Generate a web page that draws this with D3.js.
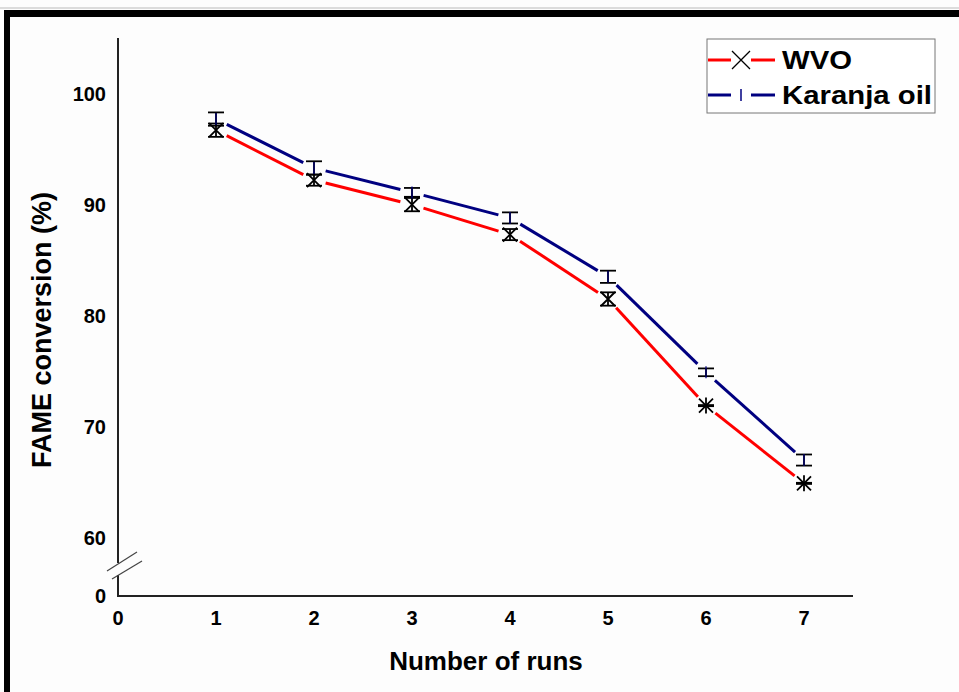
<!DOCTYPE html>
<html>
<head>
<meta charset="utf-8">
<script src="https://cdn.jsdelivr.net/npm/d3@7/dist/d3.min.js"></script>
<style>
  html, body { margin: 0; padding: 0; background: #fff; }
  svg { display: block; }
  text { font-family: "Liberation Sans", Arial, sans-serif; font-weight: bold; fill: #000; }
</style>
</head>
<body>
<svg id="chart" width="959" height="692"></svg>
<script>
// ---- data ----
const runs = [1, 2, 3, 4, 5, 6, 7];
const wvo = [96.7, 92.2, 90.0, 87.3, 81.5, 71.9, 64.9];
const wvoErr = [0.6, 0.5, 0.6, 0.5, 0.6, 0.05, 0.05];
const karanja = [97.7, 93.3, 91.1, 88.8, 83.5, 74.9, 67.0];
const karanjaErr = [0.6, 0.6, 0.4, 0.5, 0.55, 0.35, 0.5];
const xTickValues = [0, 1, 2, 3, 4, 5, 6, 7];
const yTickValues = [0, 60, 70, 80, 90, 100];
const seriesNames = ["WVO", "Karanja oil"];
const seriesColors = ["#ff0000", "#000080"];

const svg = d3.select("#chart");

// frame
svg.append("rect").attr("x", 0).attr("y", 0).attr("width", 959).attr("height", 692).attr("fill", "#fdfdfd");
svg.append("line").attr("x1", 0).attr("x2", 959).attr("y1", 8).attr("y2", 8).attr("stroke", "#bbb").attr("stroke-width", 1);
svg.append("rect").attr("x", 4).attr("y", 10).attr("width", 955).attr("height", 7).attr("fill", "#000");
svg.append("rect").attr("x", 4).attr("y", 10).attr("width", 6).attr("height", 682).attr("fill", "#000");

// scales
const x = d3.scaleLinear().domain([0, 7.5]).range([118, 853]);
const y = d3.scaleLinear().domain([0, 58, 105]).range([596, 560, 38]);

const axisColor = "#222";
svg.append("line").attr("x1", x(0)).attr("x2", x(7.5)).attr("y1", y(0)).attr("y2", y(0))
  .attr("stroke", axisColor).attr("stroke-width", 2);
const breakTop = 563, breakBottom = 575;
svg.append("line").attr("x1", x(0)).attr("x2", x(0)).attr("y1", y(105)).attr("y2", breakTop)
  .attr("stroke", axisColor).attr("stroke-width", 2);
svg.append("line").attr("x1", x(0)).attr("x2", x(0)).attr("y1", breakBottom).attr("y2", y(0) + 1)
  .attr("stroke", axisColor).attr("stroke-width", 2);
[[107, 571, 137, 552], [112, 579, 142, 561]].forEach(d => {
  svg.append("line").attr("x1", d[0]).attr("y1", d[1]).attr("x2", d[2]).attr("y2", d[3])
    .attr("stroke", "#444").attr("stroke-width", 1.2);
});

// tick labels
svg.append("g").selectAll("text").data(yTickValues).join("text")
  .attr("x", 106).attr("y", d => y(d)).attr("dy", "0.35em")
  .attr("text-anchor", "end").attr("font-size", 20).text(d => d);
svg.append("g").selectAll("text").data(xTickValues).join("text")
  .attr("x", d => x(d)).attr("y", 618).attr("dy", "0.35em")
  .attr("text-anchor", "middle").attr("font-size", 20).text(d => d);

// axis titles
svg.append("text").attr("transform", "translate(51,330) rotate(-90)")
  .attr("text-anchor", "middle").attr("font-size", 27).text("FAME conversion (%)");
svg.append("text").attr("x", 486).attr("y", 670)
  .attr("text-anchor", "middle").attr("font-size", 26).text("Number of runs");

// series lines with gaps around markers
const gap = 12;
function drawSeries(vals, color) {
  const pts = runs.map((r, i) => [x(r), y(vals[i])]);
  for (let i = 0; i < pts.length - 1; i++) {
    const [x1, y1] = pts[i], [x2, y2] = pts[i + 1];
    const dx = x2 - x1, dy = y2 - y1, L = Math.hypot(dx, dy);
    const ux = dx / L, uy = dy / L;
    svg.append("line")
      .attr("x1", x1 + ux * gap).attr("y1", y1 + uy * gap)
      .attr("x2", x2 - ux * gap).attr("y2", y2 - uy * gap)
      .attr("stroke", color).attr("stroke-width", 3).attr("stroke-linecap", "butt");
  }
}
drawSeries(wvo, seriesColors[0]);
drawSeries(karanja, seriesColors[1]);

// error bars
const capW = 8;
function drawErr(vals, errs) {
  const g = svg.append("g").attr("stroke", "#000").attr("stroke-width", 1.8);
  runs.forEach((r, i) => {
    const cx = x(r), yt = y(vals[i] + errs[i]), yb = y(vals[i] - errs[i]);
    g.append("line").attr("x1", cx).attr("x2", cx).attr("y1", yt).attr("y2", yb);
    g.append("line").attr("x1", cx - capW).attr("x2", cx + capW).attr("y1", yt).attr("y2", yt);
    g.append("line").attr("x1", cx - capW).attr("x2", cx + capW).attr("y1", yb).attr("y2", yb);
  });
}
drawErr(karanja, karanjaErr);
drawErr(wvo, wvoErr);

// markers
const ms = 7;
const mg = svg.append("g");
runs.forEach((r, i) => {
  const cx = x(r), cy = y(wvo[i]);
  mg.append("path").attr("d", `M${cx - ms},${cy - ms}L${cx + ms},${cy + ms}M${cx - ms},${cy + ms}L${cx + ms},${cy - ms}`)
    .attr("stroke", "#000").attr("stroke-width", 1.8).attr("fill", "none");
  if (wvoErr[i] < 0.2) {
    mg.append("line").attr("x1", cx).attr("x2", cx).attr("y1", cy - ms - 1).attr("y2", cy + ms + 1)
      .attr("stroke", "#000").attr("stroke-width", 1.8);
  }
  const ky = y(karanja[i]);
  mg.append("line").attr("x1", cx).attr("x2", cx).attr("y1", ky - 6).attr("y2", ky + 6)
    .attr("stroke", "#000080").attr("stroke-width", 1.2);
});

// legend
const lg = svg.append("g");
lg.append("rect").attr("x", 707).attr("y", 39).attr("width", 228).attr("height", 74)
  .attr("fill", "#fff").attr("stroke", "#777").attr("stroke-width", 1);
const rows = [60, 95];
const legendWidths = [70, 150];
seriesNames.forEach((name, i) => {
  const ry = rows[i];
  lg.append("line").attr("x1", 708).attr("x2", 731).attr("y1", ry).attr("y2", ry)
    .attr("stroke", seriesColors[i]).attr("stroke-width", 3);
  lg.append("line").attr("x1", 751).attr("x2", 775).attr("y1", ry).attr("y2", ry)
    .attr("stroke", seriesColors[i]).attr("stroke-width", 3);
  if (i === 0) {
    const s = 9, cx = 741;
    lg.append("path").attr("d", `M${cx - s},${ry - s}L${cx + s},${ry + s}M${cx - s},${ry + s}L${cx + s},${ry - s}`)
      .attr("stroke", "#000").attr("stroke-width", 1.3).attr("fill", "none");
  } else {
    lg.append("line").attr("x1", 741).attr("x2", 741).attr("y1", ry - 6).attr("y2", ry + 6)
      .attr("stroke", "#000080").attr("stroke-width", 1.5);
  }
  lg.append("text").attr("x", 782).attr("y", ry).attr("dy", "0.36em")
    .attr("font-size", 26).attr("textLength", legendWidths[i]).attr("lengthAdjust", "spacingAndGlyphs")
    .text(name);
});
</script>
</body>
</html>
